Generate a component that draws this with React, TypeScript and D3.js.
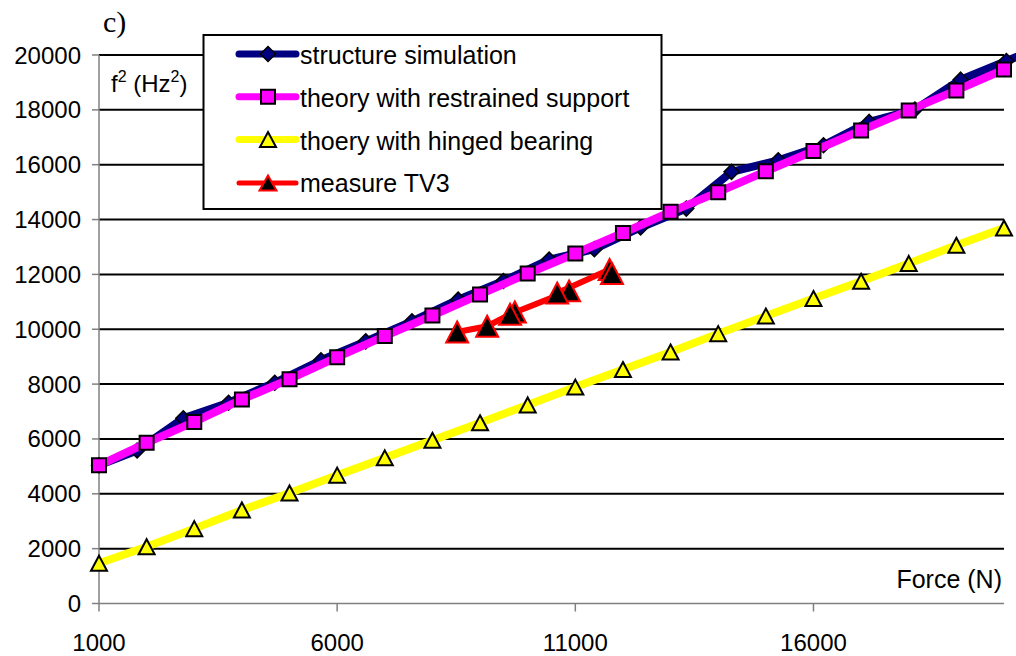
import React from 'react';
import * as d3 from 'd3';

// Force values (N) for the theoretical curves
const forceTheory = [1000, 2000, 3000, 4000, 5000, 6000, 7000, 8000, 9000, 10000, 11000, 12000, 13000, 14000, 15000, 16000, 17000, 18000, 19000, 20000];
// theory with restrained support, f^2 (Hz^2)
const restrained = [5040, 5860, 6620, 7440, 8180, 8980, 9750, 10500, 11270, 12030, 12760, 13510, 14280, 15000, 15760, 16500, 17250, 17980, 18710, 19470];
// theory with hinged bearing
const hinged = [1470, 2070, 2730, 3410, 4030, 4680, 5310, 5950, 6590, 7240, 7890, 8530, 9170, 9840, 10480, 11120, 11750, 12400, 13060, 13690];
// structure simulation
const forceSim = [1000, 1800, 2770, 3720, 4690, 5660, 6600, 7570, 8540, 9490, 10450, 11400, 12370, 13330, 14280, 15260, 16210, 17170, 18130, 19090, 20050, 21010];
const simulation = [5040, 5580, 6755, 7320, 8050, 8870, 9560, 10290, 11080, 11760, 12540, 12920, 13710, 14400, 15740, 16160, 16710, 17560, 18010, 19100, 19780, 20460];
// measure TV3
const forceMeasure = [8520, 9150, 9730, 9630, 10870, 10620, 11720, 11770];
const measure = [9900, 10110, 10630, 10550, 11400, 11320, 12180, 12030];

const yTicks = [0, 2000, 4000, 6000, 8000, 10000, 12000, 14000, 16000, 18000, 20000];
const xTicks = [1000, 6000, 11000, 16000];
const legendLabels = ['structure simulation', 'theory with restrained support', 'thoery with hinged bearing', 'measure TV3'];

const FONT = "'Liberation Sans', Arial, sans-serif";

const diamondPath = (s: number) => `M0,${-s / 2}L${s / 2},0L0,${s / 2}L${-s / 2},0Z`;
const squarePath = (s: number) => `M${-s / 2},${-s / 2}H${s / 2}V${s / 2}H${-s / 2}Z`;
const triPath = (w: number, h: number) => `M0,${-h / 2}L${w / 2},${h / 2}L${-w / 2},${h / 2}Z`;

export default function App() {
  const x = d3.scaleLinear().domain([1000, 20000]).range([99, 1004]);
  const y = d3.scaleLinear().domain([0, 20000]).range([603.5, 55]);
  const line = d3.line<[number, number]>().x(d => x(d[0])).y(d => y(d[1]));

  const simPts: [number, number][] = forceSim.map((f, i) => [f, simulation[i]]);
  const resPts: [number, number][] = forceTheory.map((f, i) => [f, restrained[i]]);
  const hinPts: [number, number][] = forceTheory.map((f, i) => [f, hinged[i]]);
  const meaPts: [number, number][] = forceMeasure.map((f, i) => [f, measure[i]]);

  const legendRows = [
    { color: '#000080', w: 7, marker: <path d={diamondPath(15)} fill="#000080" stroke="#000" strokeWidth={1.5} /> },
    { color: '#FF00FF', w: 7, marker: <path d={squarePath(14)} fill="#FF00FF" stroke="#000" strokeWidth={2} /> },
    { color: '#FFFF00', w: 7, marker: <path d={triPath(16, 15)} fill="#FFFF00" stroke="#000" strokeWidth={2} /> },
    { color: '#FF0000', w: 5, marker: <path d={triPath(17, 15)} fill="#000" stroke="#FF0000" strokeWidth={2} /> },
  ];
  const legendY = [54, 96.7, 139.5, 183];
  const legendBase = [64, 107, 150, 192];

  return (
    <svg width={1016} height={656} style={{ position: 'absolute', left: 0, top: 0, background: '#fff' }} fontFamily={FONT}>
      <rect x={0} y={0} width={1016} height={656} fill="#fff" />
      {/* gridlines */}
      {yTicks.filter(v => v > 0).map(v => (
        <line key={v} x1={x(1000)} x2={x(20000)} y1={y(v)} y2={y(v)} stroke="#000" strokeWidth={2} />
      ))}
      {/* axes */}
      <line x1={x(1000)} x2={x(1000)} y1={y(20000)} y2={y(0)} stroke="#808080" strokeWidth={1.5} />
      <line x1={x(1000)} x2={x(20000)} y1={y(0)} y2={y(0)} stroke="#808080" strokeWidth={1.5} />
      {yTicks.map(v => (
        <line key={'yt' + v} x1={92} x2={x(1000)} y1={y(v)} y2={y(v)} stroke="#808080" strokeWidth={1.5} />
      ))}
      {xTicks.map(v => (
        <line key={'xt' + v} x1={x(v)} x2={x(v)} y1={y(0)} y2={y(0) + 8} stroke="#808080" strokeWidth={1.5} />
      ))}
      {yTicks.map(v => (
        <text key={'yl' + v} x={81} y={y(v) + 8.5} textAnchor="end" fontSize={24} fill="#000">{v}</text>
      ))}
      {xTicks.map(v => (
        <text key={'xl' + v} x={x(v)} y={651} textAnchor="middle" fontSize={24} fill="#000">{v}</text>
      ))}
      <text x={1002} y={588} textAnchor="end" fontSize={25} fill="#000">Force (N)</text>
      <text x={111} y={92} fontSize={24} fill="#000">
        f<tspan fontSize={16} dy={-10}>2</tspan><tspan dy={10}> (Hz</tspan><tspan fontSize={16} dy={-10}>2</tspan><tspan dy={10}>)</tspan>
      </text>
      <text x={103} y={32} fontSize={30} fontFamily="'Liberation Serif', 'Times New Roman', serif" fill="#000">c)</text>

      {/* series 1: structure simulation */}
      <path d={line(simPts) || ''} fill="none" stroke="#000080" strokeWidth={8} strokeLinejoin="round" />
      {simPts.map((p, i) => (
        <path key={'s' + i} d={diamondPath(15)} transform={`translate(${x(p[0])},${y(p[1])})`} fill="#000080" stroke="#000" strokeWidth={1.5} />
      ))}
      {/* series 2: restrained */}
      <path d={line(resPts) || ''} fill="none" stroke="#FF00FF" strokeWidth={8} strokeLinejoin="round" />
      {resPts.map((p, i) => (
        <path key={'r' + i} d={squarePath(14)} transform={`translate(${x(p[0])},${y(p[1])})`} fill="#FF00FF" stroke="#000" strokeWidth={2} />
      ))}
      {/* series 3: hinged */}
      <path d={line(hinPts) || ''} fill="none" stroke="#FFFF00" strokeWidth={8} strokeLinejoin="round" />
      {hinPts.map((p, i) => (
        <path key={'h' + i} d={triPath(16, 15)} transform={`translate(${x(p[0])},${y(p[1])})`} fill="#FFFF00" stroke="#000" strokeWidth={2} />
      ))}
      {/* series 4: measure */}
      <path d={line(meaPts) || ''} fill="none" stroke="#FF0000" strokeWidth={6} strokeLinejoin="round" />
      {meaPts.map((p, i) => (
        <path key={'m' + i} d={triPath(22, 21)} transform={`translate(${x(p[0])},${y(p[1])})`} fill="#000" stroke="#FF0000" strokeWidth={2} />
      ))}

      {/* legend */}
      <rect x={203.5} y={35} width={458} height={174} fill="#fff" stroke="#000" strokeWidth={2} />
      {legendRows.map((r, i) => (
        <g key={'lg' + i}>
          <line x1={239} x2={296} y1={legendY[i]} y2={legendY[i]} stroke={r.color} strokeWidth={r.w} strokeLinecap="round" />
          <g transform={`translate(268,${legendY[i]})`}>{r.marker}</g>
          <text x={300} y={legendBase[i]} fontSize={25} fill="#000">{legendLabels[i]}</text>
        </g>
      ))}
    </svg>
  );
}
